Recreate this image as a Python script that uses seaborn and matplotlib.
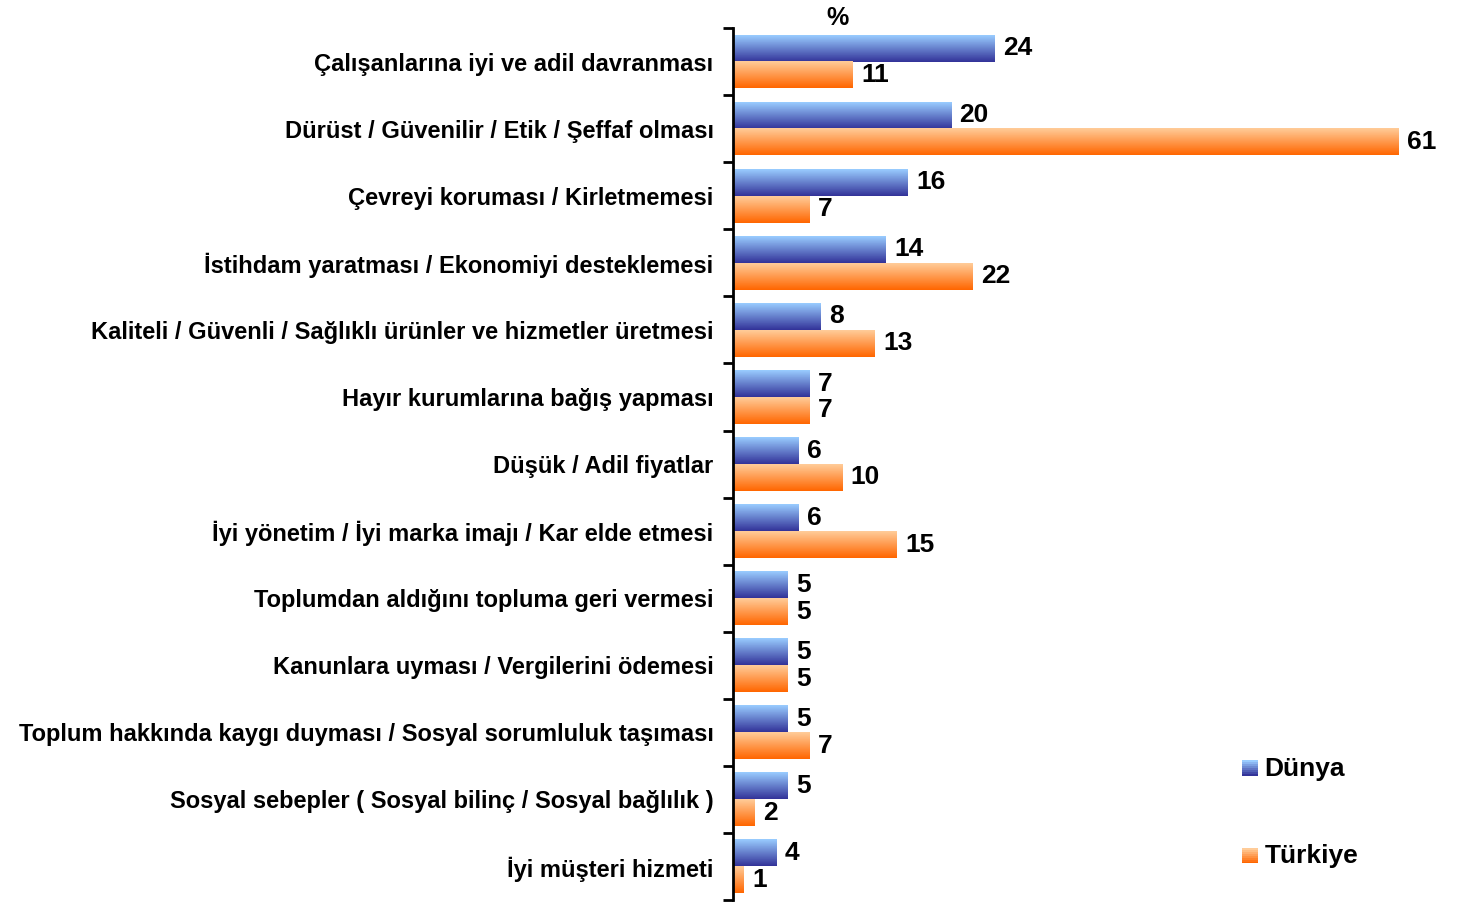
import numpy as np
import pandas as pd
import seaborn as sns
import matplotlib.pyplot as plt
from matplotlib.patches import Rectangle
from matplotlib.legend_handler import HandlerBase
from matplotlib.colors import LinearSegmentedColormap

categories = [
    "Çalışanlarına iyi ve adil davranması",
    "Dürüst / Güvenilir / Etik / Şeffaf olması",
    "Çevreyi koruması / Kirletmemesi",
    "İstihdam yaratması / Ekonomiyi desteklemesi",
    "Kaliteli / Güvenli / Sağlıklı ürünler ve hizmetler üretmesi",
    "Hayır kurumlarına bağış yapması",
    "Düşük / Adil fiyatlar",
    "İyi yönetim / İyi marka imajı / Kar elde etmesi",
    "Toplumdan aldığını topluma geri vermesi",
    "Kanunlara uyması / Vergilerini ödemesi",
    "Toplum hakkında kaygı duyması / Sosyal sorumluluk taşıması",
    "Sosyal sebepler ( Sosyal bilinç / Sosyal bağlılık )",
    "İyi müşteri hizmeti",
]
dunya = [24, 20, 16, 14, 8, 7, 6, 6, 5, 5, 5, 5, 4]
turkiye = [11, 61, 7, 22, 13, 7, 10, 15, 5, 5, 7, 2, 1]
series = ["Dünya", "Türkiye"]

# gradient end colours (top -> bottom of each bar)
grad = {
    "Dünya": ("#99CCFF", "#333399"),
    "Türkiye": ("#FFCC99", "#FF6600"),
}

df = pd.DataFrame({
    "kategori": categories * 2,
    "seri": ["Dünya"] * len(categories) + ["Türkiye"] * len(categories),
    "deger": dunya + turkiye,
})

sns.set_style("white")
plt.rcParams["font.family"] = ["Liberation Sans", "DejaVu Sans"]
plt.rcParams["text.color"] = "black"
plt.rcParams["ytick.color"] = "black"

fig = plt.figure(figsize=(14.67, 9.05), dpi=100)
ax = fig.add_axes([0.4997, 0.0055, 0.5003, 0.9635])

sns.barplot(data=df, y="kategori", x="deger", hue="seri", hue_order=series,
            order=categories, orient="h", width=0.8, ax=ax, legend=False,
            palette=[grad[s][1] for s in series], saturation=1)

xmax = 67.3
ylim = ax.get_ylim()

# paint a vertical gradient over each bar
ramp = np.linspace(0, 1, 64).reshape(-1, 1)
for cont, s in zip(ax.containers, series):
    cmap = LinearSegmentedColormap.from_list(s, list(grad[s]))
    for bar in cont:
        x0, y0 = bar.get_x(), bar.get_y()
        w, h = bar.get_width(), bar.get_height()
        ax.imshow(ramp, cmap=cmap, aspect="auto", origin="upper",
                  extent=[x0, x0 + w, y0 + h, y0], zorder=bar.get_zorder() + 0.1)
        bar.set_alpha(0)
    ax.bar_label(cont, padding=6, fontsize=19, fontweight="bold", color="black")

ax.set_xlim(0, xmax)
ax.set_ylim(ylim)

# spines / ticks
for side in ["top", "right", "bottom"]:
    ax.spines[side].set_visible(False)
ax.spines["left"].set_linewidth(2)
ax.spines["left"].set_color("black")
ax.set_xticks([])
ax.set_xlabel("")
ax.set_ylabel("")

n = len(categories)
ax.set_yticks(np.arange(n + 1) - 0.5)
ax.set_yticklabels([])
ax.set_yticks(np.arange(n), minor=True)
ax.set_yticklabels(categories, minor=True, fontsize=17, fontweight="bold")
ax.tick_params(axis="y", which="major", length=7, width=2, direction="out", left=True)
ax.tick_params(axis="y", which="minor", length=0, pad=14)

ax.annotate("%", xy=(9.6, 1.0), xycoords=("data", "axes fraction"),
            xytext=(0, 7), textcoords="offset points",
            ha="center", va="center", fontsize=18, fontweight="bold")


class GradientHandler(HandlerBase):
    def __init__(self, c_top, c_bot):
        super().__init__()
        self.c_top, self.c_bot = c_top, c_bot

    def create_artists(self, legend, orig_handle, xdescent, ydescent,
                       width, height, fontsize, trans):
        cmap = LinearSegmentedColormap.from_list("g", [self.c_top, self.c_bot])
        steps = 8
        side = height * 0.85
        arts = []
        for i in range(steps):
            r = Rectangle((width - side - xdescent, -ydescent + side * (steps - 1 - i) / steps),
                          side, side / steps, facecolor=cmap(i / (steps - 1)),
                          edgecolor="none", transform=trans)
            arts.append(r)
        return arts


h1 = Rectangle((0, 0), 1, 1)
h2 = Rectangle((0, 0), 1, 1)
leg = ax.legend([h1, h2], series, loc="center left", bbox_to_anchor=(0.672, 0.10),
                frameon=False, handlelength=0.7, handletextpad=0.25,
                labelspacing=2.4, borderpad=0,
                prop={"size": 19, "weight": "bold"},
                handler_map={h1: GradientHandler(*grad["Dünya"]),
                             h2: GradientHandler(*grad["Türkiye"])})

fig.savefig("out.png", dpi=100)
